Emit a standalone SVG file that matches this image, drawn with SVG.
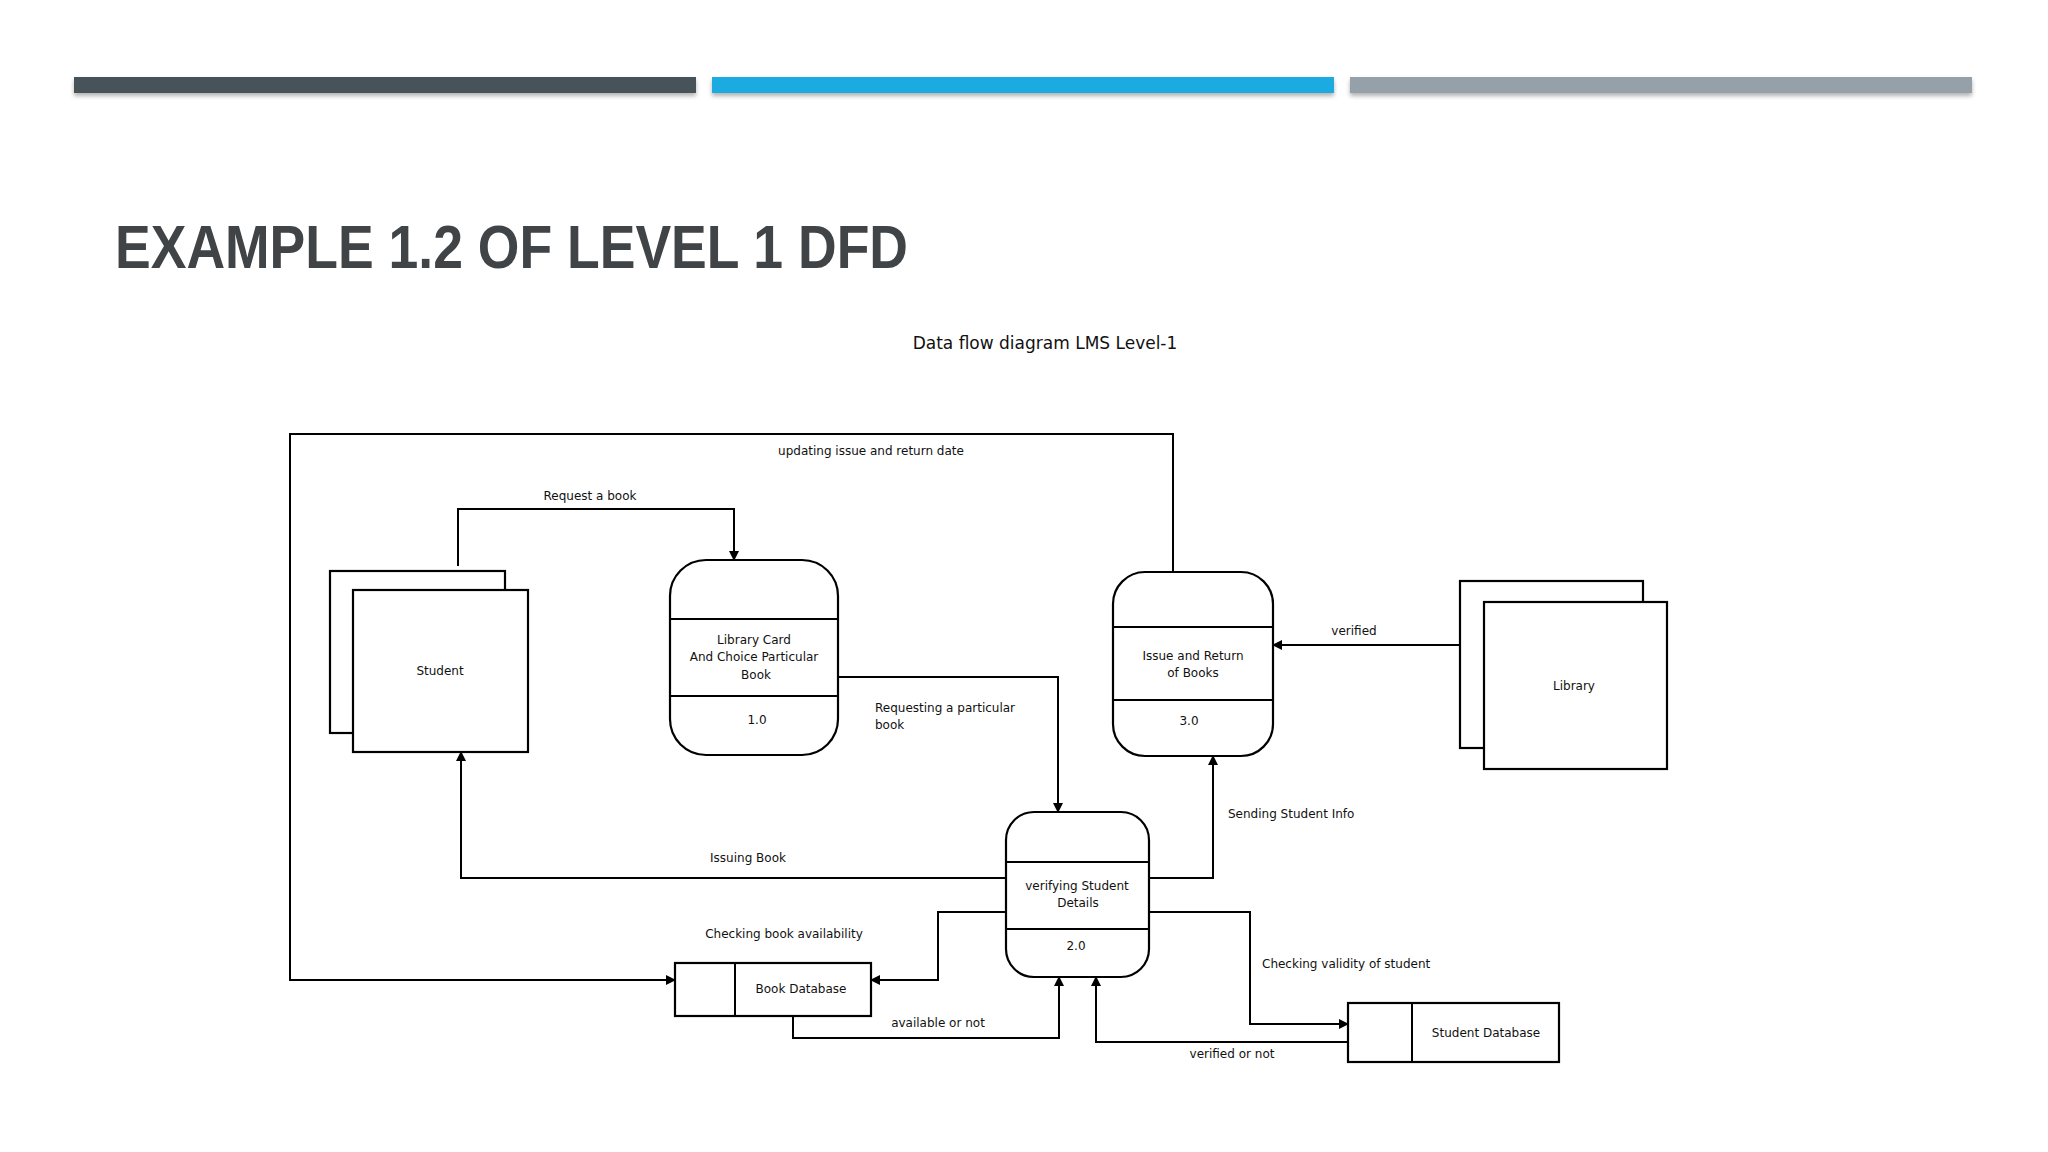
<svg xmlns="http://www.w3.org/2000/svg" width="2048" height="1152" viewBox="0 0 2048 1152">
<defs>
<marker id="a" markerWidth="10" markerHeight="10" refX="9" refY="5" orient="auto" markerUnits="userSpaceOnUse"><path d="M0,0 L10,5 L0,10 z" fill="#000"/></marker>
<filter id="sh" x="-5%" y="-50%" width="110%" height="250%"><feDropShadow dx="0" dy="3" stdDeviation="2" flood-opacity="0.3"/></filter>
</defs>
<style>
.s{fill:#fff;stroke:#000;stroke-width:2.2}
.c{fill:none;stroke:#000;stroke-width:2}
.t{font-family:"DejaVu Sans",Verdana,sans-serif;font-size:12px;fill:#111}
.m{text-anchor:middle}
</style>
<rect width="2048" height="1152" fill="#fff"/>
<g filter="url(#sh)">
<rect x="74" y="77" width="622" height="16" fill="#475358"/>
<rect x="712" y="77" width="622" height="16" fill="#1aabe0"/>
<rect x="1350" y="77" width="622" height="16" fill="#95a0a8"/>
</g>
<text x="115" y="268" font-family="'Liberation Sans Narrow','Liberation Sans',sans-serif" font-weight="bold" font-size="62" fill="#404447" textLength="793" lengthAdjust="spacingAndGlyphs">EXAMPLE 1.2 OF LEVEL 1 DFD</text>
<text x="1045" y="349" font-family="'DejaVu Sans',sans-serif" font-size="17" fill="#111" text-anchor="middle">Data flow diagram LMS Level-1</text>
<g id="connectors">
<polyline class="c" points="1173,571 1173,434 290,434 290,980 675,980" marker-end="url(#a)"/>
<polyline class="c" points="458,566 458,509 734,509 734,560" marker-end="url(#a)"/>
<polyline class="c" points="838,677 1058,677 1058,812" marker-end="url(#a)"/>
<polyline class="c" points="1460,645 1273,645" marker-end="url(#a)"/>
<polyline class="c" points="1149,878 1213,878 1213,756" marker-end="url(#a)"/>
<polyline class="c" points="1006,878 461,878 461,752" marker-end="url(#a)"/>
<polyline class="c" points="1006,912 938,912 938,980 871,980" marker-end="url(#a)"/>
<polyline class="c" points="793,1016 793,1038 1059,1038 1059,977" marker-end="url(#a)"/>
<polyline class="c" points="1149,912 1250,912 1250,1024 1348,1024" marker-end="url(#a)"/>
<polyline class="c" points="1348,1042 1096,1042 1096,977" marker-end="url(#a)"/>
<text class="t m" x="871" y="455">updating issue and return date</text>
<text class="t m" x="590" y="500">Request a book</text>
<text class="t" x="875" y="712">Requesting a particular</text>
<text class="t" x="875" y="729">book</text>
<text class="t m" x="1354" y="635">verified</text>
<text class="t" x="1228" y="818">Sending Student Info</text>
<text class="t m" x="748" y="862">Issuing Book</text>
<text class="t m" x="784" y="938">Checking book availability</text>
<text class="t m" x="938" y="1027">available or not</text>
<text class="t" x="1262" y="968">Checking validity of student</text>
<text class="t m" x="1232" y="1058">verified or not</text>
</g>
<g id="student">
<rect class="s" x="330" y="571" width="175" height="162"/>
<rect class="s" x="353" y="590" width="175" height="162"/>
<text class="t m" x="440" y="675">Student</text>
</g>
<g id="p1">
<rect class="s" x="670" y="560" width="168" height="195" rx="36"/>
<line class="c" x1="670" y1="619" x2="838" y2="619"/>
<line class="c" x1="670" y1="696" x2="838" y2="696"/>
<text class="t m" x="754" y="644">Library Card</text>
<text class="t m" x="754" y="661">And Choice Particular</text>
<text class="t m" x="756" y="679">Book</text>
<text class="t m" x="757" y="724">1.0</text>
</g>
<g id="p3">
<rect class="s" x="1113" y="572" width="160" height="184" rx="32"/>
<line class="c" x1="1113" y1="627" x2="1273" y2="627"/>
<line class="c" x1="1113" y1="700" x2="1273" y2="700"/>
<text class="t m" x="1193" y="660">Issue and Return</text>
<text class="t m" x="1193" y="677">of Books</text>
<text class="t m" x="1189" y="725">3.0</text>
</g>
<g id="p2">
<rect class="s" x="1006" y="812" width="143" height="165" rx="28"/>
<line class="c" x1="1006" y1="862" x2="1149" y2="862"/>
<line class="c" x1="1006" y1="929" x2="1149" y2="929"/>
<text class="t m" x="1077" y="890">verifying Student</text>
<text class="t m" x="1078" y="907">Details</text>
<text class="t m" x="1076" y="950">2.0</text>
</g>
<g id="library">
<rect class="s" x="1460" y="581" width="183" height="167"/>
<rect class="s" x="1484" y="602" width="183" height="167"/>
<text class="t m" x="1574" y="690">Library</text>
</g>
<g id="bookdb">
<rect class="s" x="675" y="963" width="196" height="53"/>
<line class="c" x1="735" y1="963" x2="735" y2="1016"/>
<text class="t m" x="801" y="993">Book Database</text>
</g>
<g id="studentdb">
<rect class="s" x="1348" y="1003" width="211" height="59"/>
<line class="c" x1="1412" y1="1003" x2="1412" y2="1062"/>
<text class="t m" x="1486" y="1037">Student Database</text>
</g>
</svg>
